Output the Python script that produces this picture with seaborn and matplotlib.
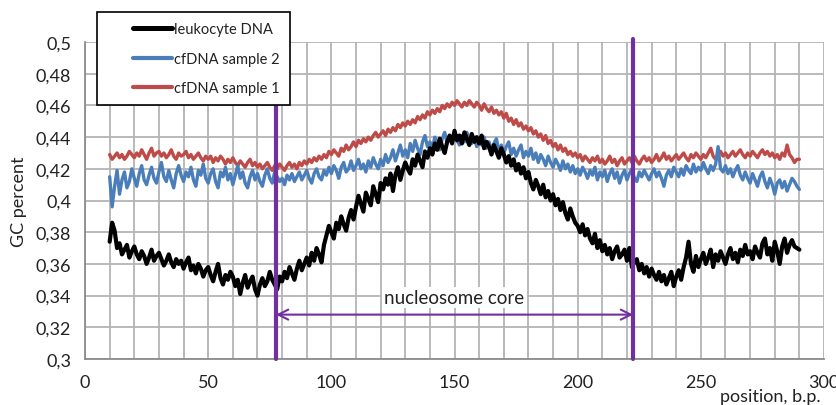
import numpy as np
import pandas as pd
import matplotlib
matplotlib.use("Agg")
import matplotlib.pyplot as plt
from matplotlib.lines import Line2D
from matplotlib.legend_handler import HandlerLine2D
import seaborn as sns

x_start, x_end = 10, 290

leukocyte = [
    .374,.386,.381,.370,.373,.366,.369,.372,.364,.368,
    .371,.366,.363,.368,.365,.360,.364,.369,.362,.365,
    .367,.363,.359,.362,.366,.361,.358,.363,.360,.362,
    .357,.361,.364,.356,.359,.354,.360,.357,.352,.356,
    .358,.353,.349,.355,.360,.351,.347,.353,.350,.355,
    .352,.346,.350,.341,.348,.353,.345,.349,.352,.344,
    .340,.347,.351,.346,.349,.355,.350,.347,.344,.352,
    .349,.355,.351,.358,.354,.350,.357,.362,.356,.360,
    .364,.359,.367,.362,.370,.366,.361,.372,.378,.384,
    .380,.376,.386,.382,.390,.385,.381,.389,.394,.388,
    .396,.403,.398,.393,.405,.401,.397,.409,.404,.399,
    .411,.407,.414,.410,.417,.406,.416,.421,.413,.419,
    .424,.420,.417,.426,.422,.429,.425,.421,.431,.427,
    .433,.429,.436,.432,.439,.434,.430,.437,.441,.436,
    .444,.438,.441,.436,.443,.439,.435,.442,.437,.440,
    .436,.441,.433,.437,.434,.429,.435,.431,.427,.433,
    .429,.424,.428,.422,.426,.419,.423,.417,.421,.414,
    .418,.411,.407,.413,.409,.404,.410,.402,.406,.400,
    .404,.397,.401,.394,.399,.392,.388,.395,.390,.386,
    .384,.380,.385,.378,.382,.376,.373,.379,.370,.375,
    .368,.372,.366,.370,.363,.368,.371,.364,.366,.369,
    .362,.370,.358,.361,.363,.356,.360,.354,.358,.352,
    .357,.353,.350,.355,.349,.353,.347,.351,.355,.346,
    .352,.356,.350,.358,.364,.374,.360,.355,.365,.358,
    .363,.367,.360,.364,.369,.358,.366,.362,.368,.364,
    .360,.366,.370,.363,.367,.361,.369,.365,.372,.366,
    .368,.363,.371,.367,.364,.373,.376,.366,.370,.362,
    .374,.368,.360,.371,.376,.367,.372,.375,.371,.370,
    .369,
]

cfdna_2 = [
    .415,.396,.409,.419,.404,.413,.418,.408,.412,.420,
    .414,.409,.417,.422,.413,.410,.416,.421,.414,.411,
    .418,.424,.415,.412,.419,.413,.408,.417,.422,.416,
    .412,.418,.415,.421,.413,.409,.419,.416,.423,.414,
    .411,.417,.420,.412,.408,.418,.415,.421,.413,.417,
    .410,.416,.422,.414,.418,.411,.408,.415,.419,.413,
    .417,.412,.409,.416,.420,.414,.411,.418,.415,.412,
    .414,.410,.416,.413,.417,.412,.415,.418,.413,.416,
    .419,.414,.411,.417,.420,.415,.413,.419,.416,.421,
    .417,.422,.419,.414,.421,.424,.418,.420,.425,.419,
    .422,.426,.420,.423,.418,.425,.421,.427,.423,.420,
    .426,.422,.429,.424,.427,.432,.425,.430,.435,.428,
    .432,.427,.436,.431,.438,.433,.429,.437,.441,.434,
    .437,.433,.440,.436,.432,.439,.443,.436,.440,.437,
    .442,.438,.435,.441,.437,.443,.439,.436,.440,.434,
    .438,.435,.440,.433,.437,.432,.436,.439,.431,.435,
    .430,.434,.437,.429,.433,.428,.432,.435,.427,.431,
    .428,.433,.426,.430,.424,.429,.426,.422,.428,.424,
    .421,.426,.423,.419,.425,.420,.423,.418,.422,.417,
    .420,.416,.421,.418,.414,.419,.416,.421,.413,.418,
    .415,.419,.412,.417,.420,.414,.418,.411,.416,.419,
    .413,.417,.420,.414,.412,.418,.415,.419,.416,.413,
    .417,.420,.415,.418,.414,.409,.416,.419,.415,.421,
    .418,.415,.420,.416,.422,.419,.417,.423,.418,.421,
    .419,.424,.420,.417,.422,.419,.423,.434,.420,.418,
    .422,.417,.420,.415,.419,.422,.416,.413,.418,.414,
    .411,.417,.413,.409,.415,.418,.412,.408,.414,.410,
    .404,.411,.413,.408,.412,.406,.410,.414,.412,.409,
    .407,
]

cfdna_1 = [
    .429,.426,.428,.430,.427,.429,.426,.428,.431,.429,
    .427,.430,.428,.432,.429,.426,.430,.433,.428,.430,
    .431,.428,.430,.427,.429,.432,.428,.426,.430,.428,
    .429,.431,.427,.429,.426,.428,.430,.427,.425,.428,
    .426,.428,.424,.427,.425,.428,.426,.423,.426,.424,
    .427,.424,.422,.425,.423,.421,.424,.426,.422,.424,
    .421,.423,.420,.422,.424,.421,.419,.422,.420,.423,
    .421,.419,.422,.424,.421,.423,.420,.424,.422,.425,
    .423,.426,.424,.427,.425,.428,.426,.429,.427,.431,
    .429,.432,.430,.428,.433,.431,.435,.432,.434,.437,
    .434,.438,.436,.439,.437,.440,.438,.441,.443,.440,
    .442,.444,.441,.445,.443,.446,.444,.448,.446,.449,
    .447,.450,.448,.451,.449,.453,.451,.454,.452,.456,
    .454,.457,.455,.458,.456,.460,.458,.461,.459,.462,
    .460,.463,.461,.459,.462,.460,.463,.461,.459,.462,
    .460,.457,.461,.458,.456,.459,.455,.457,.454,.456,
    .452,.455,.450,.452,.448,.451,.447,.449,.445,.447,
    .444,.446,.442,.444,.440,.442,.438,.441,.436,.438,
    .434,.436,.432,.435,.431,.433,.429,.431,.428,.430,
    .427,.429,.425,.428,.426,.424,.427,.425,.428,.424,
    .426,.423,.425,.428,.424,.426,.422,.425,.427,.423,
    .425,.427,.424,.428,.425,.423,.426,.428,.425,.427,
    .424,.426,.429,.425,.427,.430,.426,.428,.425,.427,
    .429,.426,.428,.430,.427,.425,.429,.427,.430,.428,
    .426,.429,.427,.430,.433,.428,.426,.429,.431,.428,
    .430,.427,.429,.431,.428,.430,.432,.429,.427,.430,
    .428,.431,.429,.427,.430,.432,.429,.431,.428,.430,
    .427,.429,.426,.430,.428,.435,.429,.427,.424,.426,
    .426,
]

series_names = ["leukocyte DNA", "cfDNA sample 2", "cfDNA sample 1"]
core_start, core_end = 77.5, 222.5
core_label = "nucleosome core"
x_ticks = [0, 50, 100, 150, 200, 250, 300]
y_ticks = [0.30, 0.32, 0.34, 0.36, 0.38, 0.40, 0.42, 0.44, 0.46, 0.48, 0.50]
y_tick_labels = ["0,3", "0,32", "0,34", "0,36", "0,38", "0,4", "0,42", "0,44", "0,46", "0,48", "0,5"]

positions = np.arange(x_start, x_end + 1)
df = pd.DataFrame({
    "position": np.tile(positions, 3),
    "value": leukocyte + cfdna_2 + cfdna_1,
    "series": np.repeat(series_names, len(positions)),
})

sns.set_style("white")
plt.rcParams["font.family"] = ["Lato", "DejaVu Sans"]

fig = plt.figure(figsize=(8.37, 4.06), dpi=100)
ax = fig.add_axes([0.1016, 0.1133, 0.8829, 0.7807])

colors = {"leukocyte DNA": "#000000", "cfDNA sample 2": "#4A7EBB", "cfDNA sample 1": "#BE4B48"}
widths = {"leukocyte DNA": 3.0, "cfDNA sample 2": 2.4, "cfDNA sample 1": 2.4}
for name in ["cfDNA sample 1", "cfDNA sample 2", "leukocyte DNA"]:
    sub = df[df["series"] == name]
    sns.lineplot(data=sub, x="position", y="value", ax=ax, color=colors[name],
                 linewidth=widths[name], label=name, zorder=3)
h, l = ax.get_legend_handles_labels()
hd = dict(zip(l, h))
if ax.get_legend():
    ax.get_legend().remove()

ax.set_xlim(0, 300)
ax.set_ylim(0.3, 0.5)
ax.set_xticks(x_ticks)
ax.set_xticks(np.arange(0, 301, 10), minor=True)
ax.set_yticks(y_ticks)
ax.set_yticklabels(y_tick_labels)
ax.grid(True, which="both", axis="x", color="#B4B4B4", linewidth=1.3, zorder=0)
ax.grid(True, which="major", axis="y", color="#B4B4B4", linewidth=1.3, zorder=0)
ax.set_axisbelow(True)
for s in ["top", "right"]:
    ax.spines[s].set_visible(False)
for s in ["left", "bottom"]:
    ax.spines[s].set_color("#8C8C8C")
    ax.spines[s].set_linewidth(1.3)
ax.tick_params(axis="both", which="major", direction="out", length=5, width=1.3,
               color="#8C8C8C", labelsize=13, labelcolor="#222222")
ax.tick_params(axis="x", which="minor", length=0)
ax.tick_params(axis="x", pad=6)
ax.tick_params(axis="y", pad=5)
ax.set_xlabel("")
ax.set_ylabel("GC percent", fontsize=13, color="#222222")
ax.yaxis.set_label_coords(-0.079, 0.5)

fig.text(0.98, 0.022, "position, b.p.", ha="right", va="center", fontsize=13, color="#222222")

purple = "#7030A0"
for xv in [core_start, core_end]:
    ax.plot([xv, xv], [0.3, 0.502], color=purple, linewidth=3, zorder=4, clip_on=False)
ax.annotate("", xy=(core_start, 0.328), xytext=(core_end, 0.328),
            arrowprops=dict(arrowstyle="<->", color=purple, lw=1.5,
                            mutation_scale=18, shrinkA=0, shrinkB=0), zorder=5)
ax.text((core_start + core_end) / 2, 0.339, core_label, ha="center", va="center",
        fontsize=13.5, color="#222222", zorder=6,
        bbox=dict(facecolor="white", edgecolor="none", pad=1.5))

leg = fig.legend([hd[n] for n in series_names], series_names,
                 loc="upper left", bbox_to_anchor=(0.116, 0.968),
                 frameon=True, fancybox=False, edgecolor="black", framealpha=1,
                 fontsize=10.5, handlelength=4.46, handletextpad=0.12,
                 labelspacing=1.06, borderpad=0.7, borderaxespad=0,
                 handler_map={Line2D: HandlerLine2D(xpad=1.78)})
leg.get_frame().set_linewidth(1.2)
for t in leg.get_texts():
    t.set_color("#222222")
for ln, n in zip(leg.get_lines(), series_names):
    ln.set_linewidth(3.6 if n == "leukocyte DNA" else 3.0)

fig.savefig("out.png", dpi=100)
